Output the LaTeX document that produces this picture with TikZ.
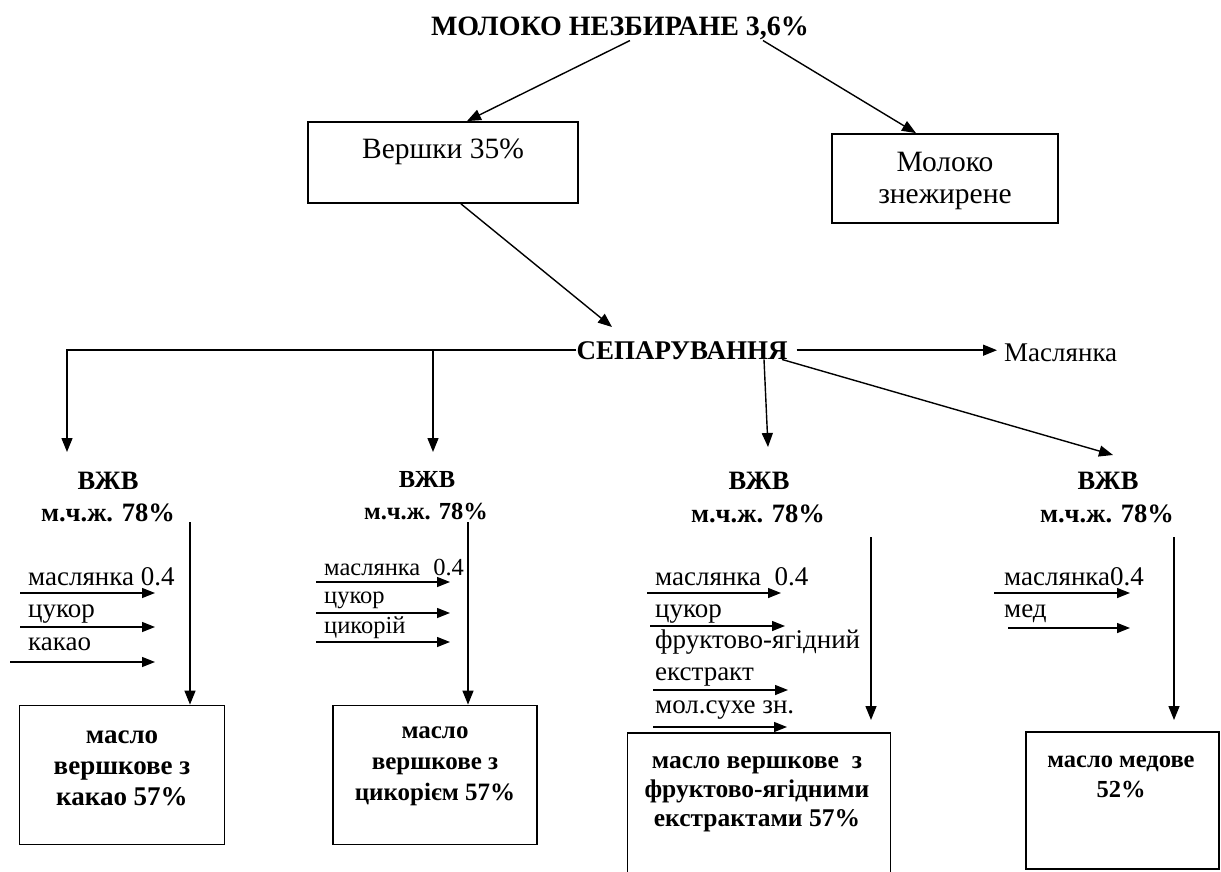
\documentclass[tikz,border=0pt]{standalone}
\usepackage{fontspec}
\setmainfont{Liberation Serif}
\usetikzlibrary{arrows.meta,calc}
\begin{document}
\begin{tikzpicture}[x=1pt,y=-1pt,
  arr/.style={line width=1.4pt,-{Triangle[length=14pt,width=11pt]}},
  arrin/.style={line width=1.4pt,-{Triangle[length=13pt,width=10pt]}},
  boxs/.style={draw,line width=1.8pt,inner sep=0pt},
  rg/.style={font=\fontsize{27}{33}\selectfont,inner sep=0pt,align=center},
  rgs/.style={font=\fontsize{24.5}{30}\selectfont,inner sep=0pt,align=center},
  rgb/.style={font=\fontsize{29.5}{32.5}\selectfont,inner sep=0pt,align=center},
  bd/.style={font=\bfseries\fontsize{26.5}{31}\selectfont,inner sep=0pt,align=center},
  bds/.style={font=\bfseries\fontsize{24.5}{30}\selectfont,inner sep=0pt,align=center},
  ttl/.style={font=\bfseries\fontsize{28}{32}\selectfont,inner sep=0pt},
]
\fill[white] (0,0) rectangle (1221,872);
\useasboundingbox (0,0) rectangle (1221,872);
\clip (0,0) rectangle (1221,872);

% top
\node[ttl,anchor=base] (milk) at (620,36) {МОЛОКО НЕЗБИРАНЕ 3,6\%};
\node[boxs,minimum width=270pt,minimum height=81pt] (cream) at (443,162.5) {};
\node[rgb,anchor=base] (creamt) at (443,159) {Вершки 35\%};
\node[boxs,minimum width=226pt,minimum height=89pt] (skim) at (945,178.5) {};
\node[rgb,anchor=center] (skimt) at (945,181) {Молоко\\знежирене};

\node[bd,font=\bfseries\fontsize{27}{31}\selectfont,anchor=base] (sep) at (682,359) {СЕПАРУВАННЯ};
\node[rg,anchor=base west] (butter) at (1004,361) {Маслянка};

\draw[arr] (milk.south -| 630,0) -- (cream.north -| 467,0);
\draw[arr] (milk.south -| 763,0) -- (skim.north -| 916,0);
\coordinate (s0) at (612,327);
\draw[arr] (cream.south -| 461,0) -- (s0);

% branches
\coordinate (t1) at (67,452);
\coordinate (t2) at (433,452);
\coordinate (t3) at (768,447);
\coordinate (t4) at (1113,455);
\draw[arr] (sep.west) -| (t1);
\draw[arr] (sep.west -| t2) -- (t2);
\coordinate (bt) at ($(sep.east -| butter.west)+(-7,0)$);
\draw[arr] ([xshift=9pt]sep.east) -- (bt);
\draw[arr] (sep.south -| 764,0) -- (t3);
\draw[arr] (sep.south -| 782,0) -- (t4);

% VZhV labels
\node[bd,anchor=base] (v1) at (108,489) {ВЖВ};
\node[bd,anchor=base] (f1) at (108,521) {м.ч.ж. 78\%};
\node[bds,anchor=base] (v2) at (427,487) {ВЖВ};
\node[bds,anchor=base] (f2) at (426,519) {м.ч.ж. 78\%};
\node[bd,anchor=base] (v3) at (759,489) {ВЖВ};
\node[bd,anchor=base] (f3) at (758,522) {м.ч.ж. 78\%};
\node[bd,anchor=base] (v4) at (1108,489) {ВЖВ};
\node[bd,anchor=base] (f4) at (1107,522) {м.ч.ж. 78\%};

% product boxes
\node[boxs,minimum width=205pt,minimum height=139pt] (p1) at (122,775) {};
\node[bd,font=\bfseries\fontsize{27}{31}\selectfont] (p1t) at (122,768) {масло\\вершкове з\\какао 57\%};
\node[boxs,minimum width=204pt,minimum height=139pt] (p2) at (435,775) {};
\node[bd,font=\bfseries\fontsize{25}{31}\selectfont] (p2t) at (435,766) {масло\\вершкове з\\цикорієм 57\%};
\node[boxs,minimum width=263pt,minimum height=180pt] (p3) at (759,823) {};
\node[bd,font=\bfseries\fontsize{25.5}{29}\selectfont] (p3t) at (757,794) {масло вершкове~~з\\фруктово-ягідними\\екстрактами 57\%};
\node[boxs,minimum width=193pt,minimum height=137pt] (p4) at (1122.5,800.5) {};
\node[bd,font=\bfseries\fontsize{24.5}{30}\selectfont] (p4t) at (1121,777) {масло медове\\52\%};

% column arrows
\coordinate (a1) at (190,522);
\coordinate (a2) at (468,522);
\coordinate (a3) at (871,537);
\coordinate (a4) at (1174,537);
\coordinate (e3) at (871,720);
\coordinate (e4) at (1174,720);
\draw[arr] (a1) -- (p1.north -| a1);
\draw[arr] (a2) -- (p2.north -| a2);
\draw[arr] (a3) -- (e3);
\draw[arr] (a4) -- (e4);

% input arrows
\foreach \n/\xa/\xb/\y in {1a/20/155/593,1b/20/155/627,1c/10/155/662,
  2a/316/450/582,2b/316/450/613,2c/316/450/642,
  3a/647/781/593,3b/650/785/626,3c/653/788/690,3d/653/787/727,
  4a/994/1130/593,4b/1008/1130/628}{
  \coordinate (s\n) at (\xa,\y);
  \coordinate (e\n) at (\xb,\y);
  \draw[arrin] (s\n) -- (e\n);
}

% input labels
\node[rg,anchor=base west] (l1a) at (28,585) {маслянка 0.4};
\node[rg,anchor=base west] (l1b) at (28,617) {цукор};
\node[rg,anchor=base west] (l1c) at (28,650) {какао};
\node[rgs,anchor=base west] (l2a) at (324,575) {маслянка\hspace{13pt}0.4};
\node[rgs,anchor=base west] (l2b) at (324,603) {цукор};
\node[rgs,anchor=base west] (l2c) at (324,633) {цикорій};
\node[rg,anchor=base west] (l3a) at (655,585) {маслянка~~0.4};
\node[rg,anchor=base west] (l3b) at (655,617) {цукор};
\node[rg,anchor=base west] (l3c) at (655,648) {фруктово-ягідний};
\node[rg,anchor=base west] (l3d) at (655,680) {екстракт};
\node[rg,anchor=base west] (l3e) at (655,713) {мол.сухе зн.};
\node[rg,anchor=base west] (l4a) at (1004,585) {маслянка0.4};
\node[rg,anchor=base west] (l4b) at (1004,617) {мед};
\end{tikzpicture}
\end{document}
